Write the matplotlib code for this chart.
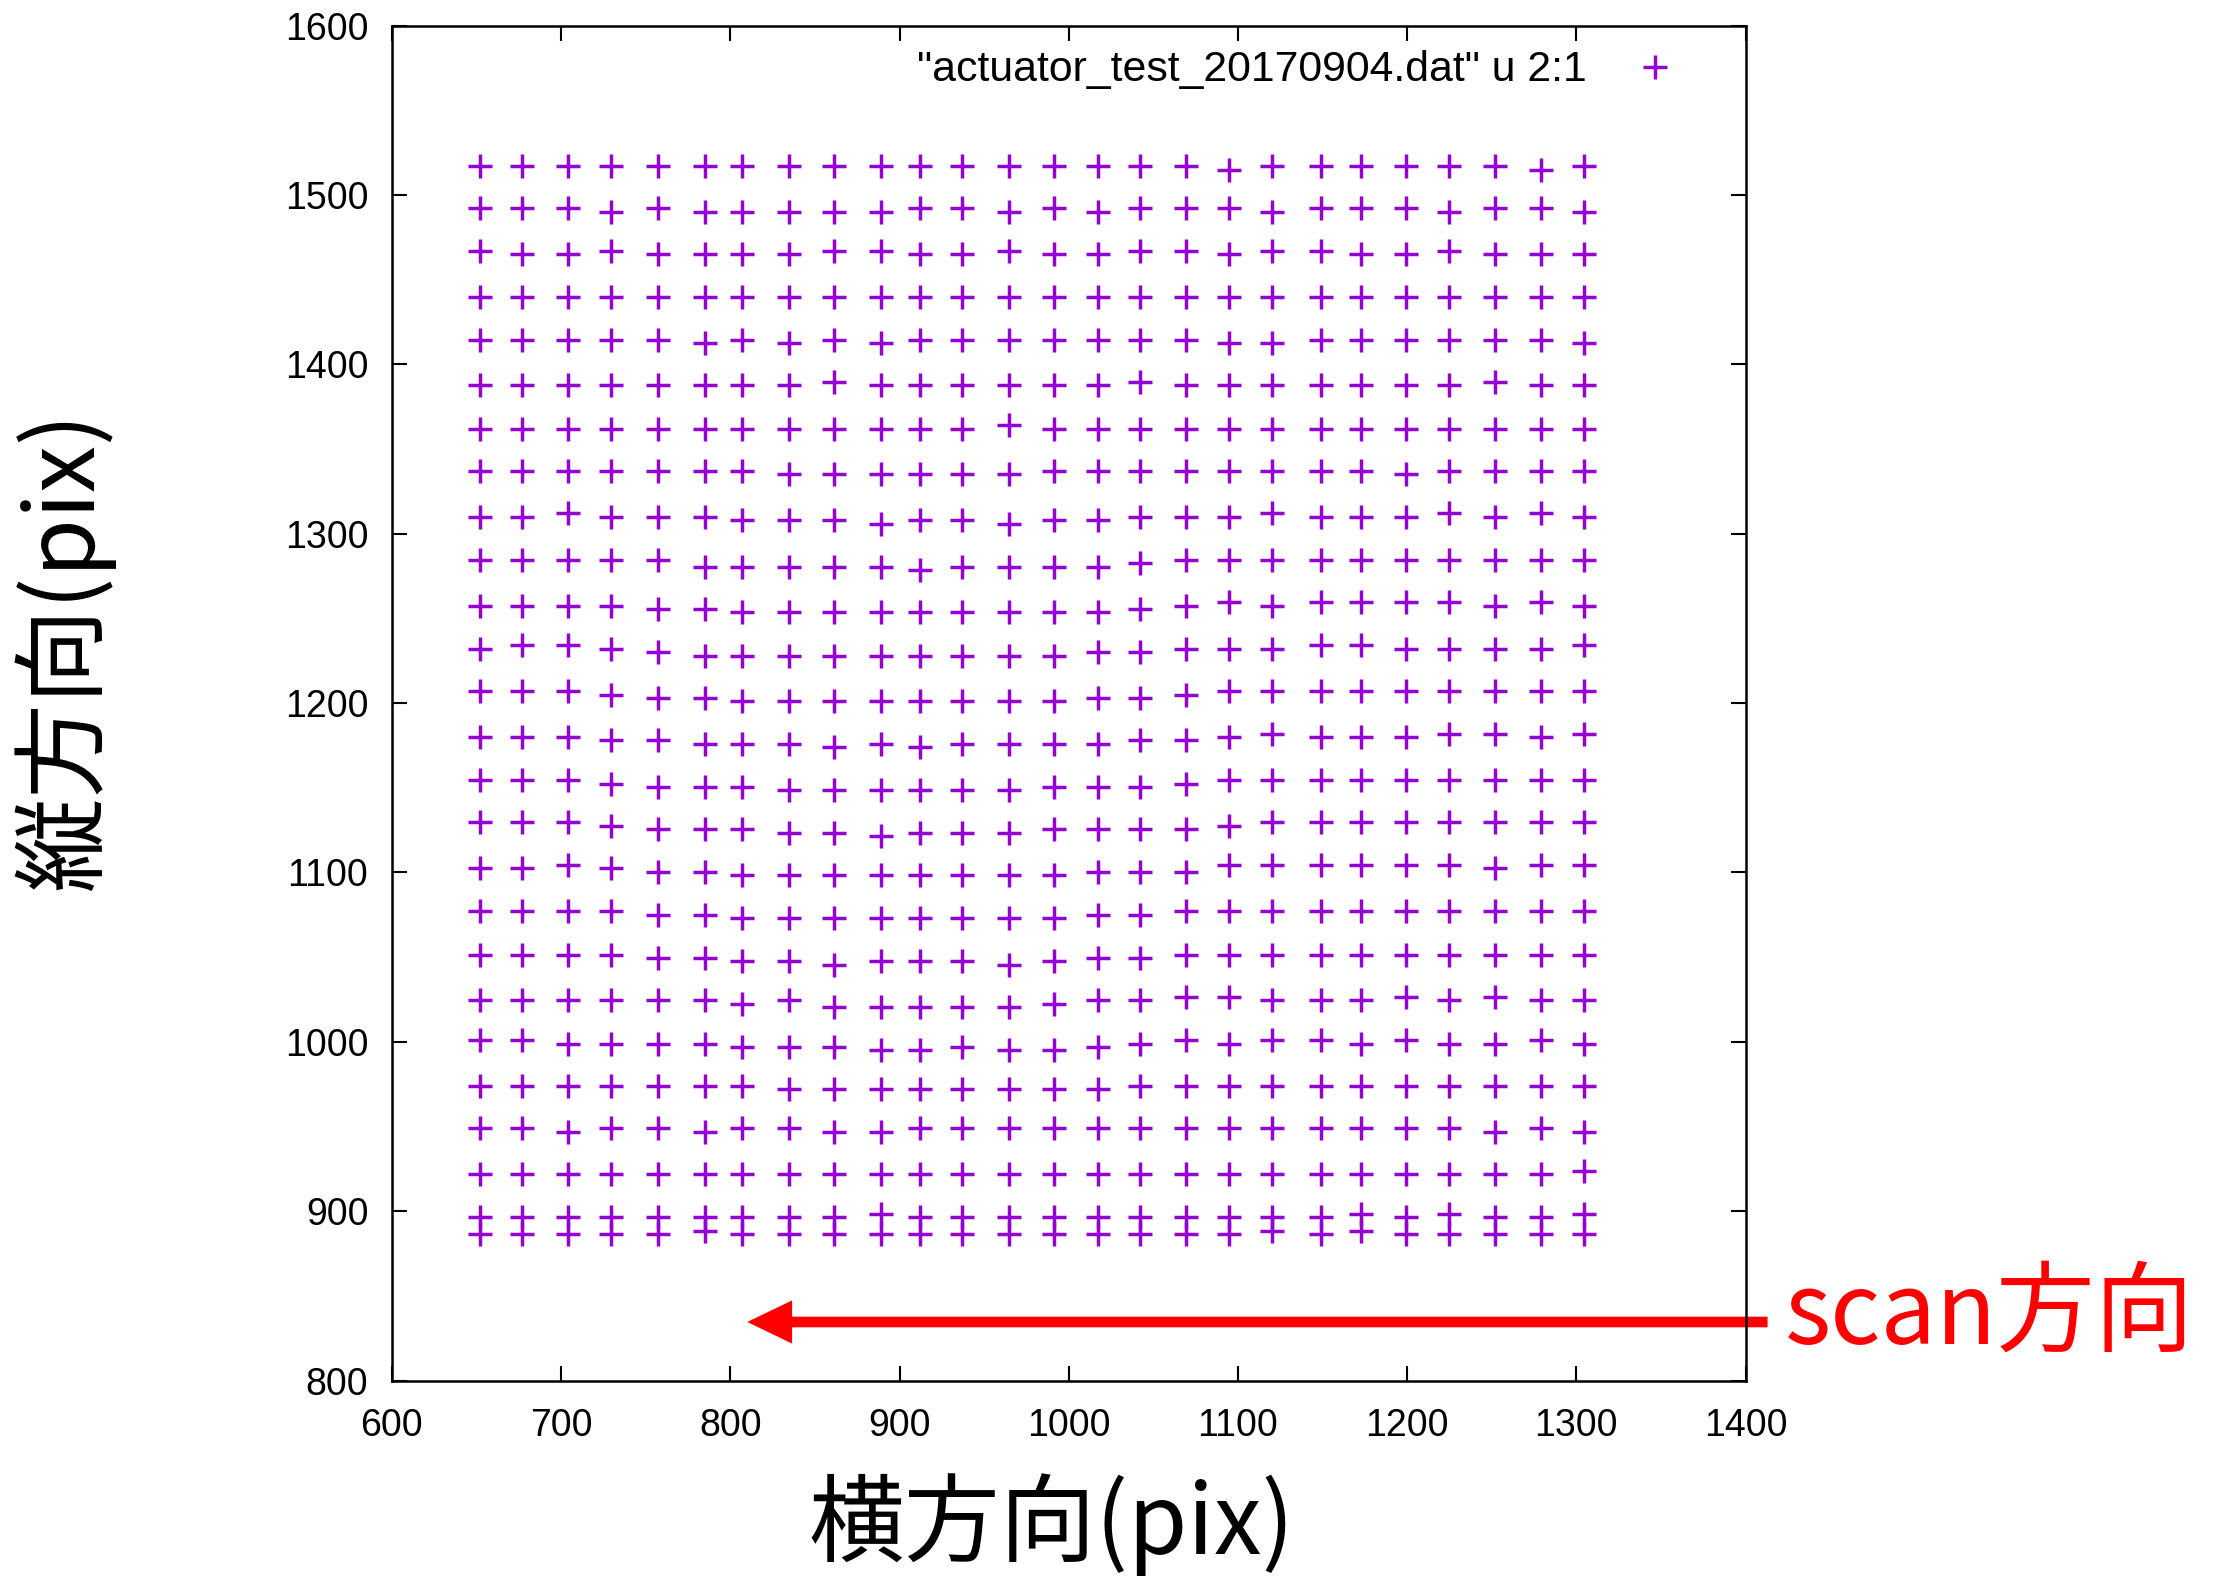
import matplotlib
matplotlib.use('Agg')
import matplotlib.pyplot as plt
from matplotlib.patches import FancyArrow

# ---- data ----
col_x = [652, 677, 704, 729.5, 757.5, 785, 807, 834.5, 861, 889, 912, 937, 964.5,
         991.5, 1017, 1042, 1069.5, 1095, 1120, 1149, 1172.5, 1199.5, 1225, 1252, 1279, 1304.5]
row_y = [1517, 1492, 1467, 1440, 1414.5, 1387.5, 1362, 1337, 1310, 1284.5, 1257.5, 1232,
         1207, 1180, 1154.5, 1129.5, 1102.5, 1077, 1051.5, 1024.5, 1001, 974, 949, 922,
         896.5, 886.5]
row_dy = [
    [0,0,0,0,0,0,0,0,0, 0,0,0,0,0,0,0,0, -2,0,0,0,0,0,0,-2,0],
    [0,0,0,-2,0,-2,-2,-2,-2, -2,0,0,-2,0,-2,0,0, 0,-2,0,0,0,-2,0,0,-2],
    [0,-2,-2,0,-2,-2,-2,-2,0, 0,-2,-2,0,-2,-2,0,0, -2,0,0,-2,-2,0,-2,-2,-2],
    [0,0,0,0,0,0,0,0,0, 0,0,0,0,0,0,0,0, 0,0,0,0,0,0,0,0,0],
    [0,0,0,0,0,-2,0,-2,0, -2,0,0,0,0,0,0,0, -2,-2,0,0,0,0,0,0,-2],
    [0,0,0,0,0,0,0,0,2, 0,0,0,0,0,0,2,0, 0,0,0,0,0,0,2,0,0],
    [0,0,0,0,0,0,0,0,0, 0,0,0,2,0,0,0,0, 0,0,0,0,0,0,0,0,0],
    [0,0,0,0,0,0,0,-2,-2, -2,-2,-2,-2,0,0,0,0, 0,0,0,0,-2,0,0,0,0],
    [0,0,2,0,0,0,-2,-2,-2, -4,-2,-2,-4,-2,-2,0,0, 0,2,0,0,0,2,0,2,0],
    [0,0,0,0,0,-4,-4,-4,-4, -4,-6,-4,-4,-4,-4,-2,0, 0,0,0,0,0,0,0,0,0],
    [0,0,0,0,-2,-2,-4,-4,-4, -4,-4,-4,-4,-4,-4,-2,0, 2,0,2,2,2,2,0,2,0],
    [0,2,2,0,-2,-4,-4,-4,-4, -4,-4,-4,-4,-4,-2,-2,0, 0,0,2,2,0,0,0,0,2],
    [0,0,0,-2,-4,-4,-6,-6,-6, -6,-6,-6,-6,-6,-4,-4,-2, 0,0,0,0,0,0,0,0,0],
    [0,0,0,-2,-2,-4,-4,-4,-6, -4,-6,-4,-4,-4,-4,-2,-2, 0,2,0,0,0,2,2,0,2],
    [0,0,0,-2,-4,-4,-4,-6,-6, -6,-6,-6,-6,-4,-4,-4,-2, 0,0,0,0,0,0,0,0,0],
    [0,0,0,-2,-4,-4,-4,-6,-6, -8,-6,-6,-6,-4,-4,-4,-4, -2,0,0,0,0,0,0,0,0],
    [0,0,2,0,-2,-2,-4,-4,-4, -4,-4,-4,-4,-4,-2,-2,-2, 2,2,2,2,2,2,0,2,2],
    [0,0,0,0,-2,-2,-4,-4,-4, -4,-4,-4,-4,-4,-2,-2,0, 0,0,0,0,0,0,0,0,0],
    [0,0,0,0,-2,-2,-4,-4,-6, -4,-4,-4,-6,-4,-2,-2,0, 0,0,0,0,0,0,0,0,0],
    [0,0,0,0,0,0,-2,0,-4, -4,-4,-4,-4,-2,0,0,2, 2,0,0,0,2,0,2,0,0],
    [0,0,-2,-2,-2,-2,-4,-4,-4, -6,-6,-4,-6,-6,-4,-2,0, -2,0,0,-2,0,-2,-2,0,-2],
    [0,0,0,0,0,0,0,-2,-2, -2,-2,-2,-2,-2,-2,0,0, 0,0,0,0,0,0,0,0,0],
    [0,0,-2,0,0,-2,0,0,-2, -2,0,0,0,0,0,0,0, 0,0,0,0,0,0,-2,0,-2],
    [0,0,0,0,0,0,0,0,0, 0,0,0,0,0,0,0,0, 0,0,0,0,0,0,0,0,2],
    [0,0,0,0,0,0,0,0,0, 2,0,0,0,0,0,0,0, 0,0,0,2,0,2,0,0,2],
    [0,0,0,0,0,2,0,0,0, 0,0,0,0,0,0,0,0, 0,2,0,2,0,0,0,0,0],
]
x_ticks = [600, 700, 800, 900, 1000, 1100, 1200, 1300, 1400]
y_ticks = [800, 900, 1000, 1100, 1200, 1300, 1400, 1500, 1600]
legend_label = '"actuator_test_20170904.dat" u 2:1'
x_label = '横方向(pix)'
y_label = '縦方向(pix)'
scan_label = 'scan方向'
scan_from_x, scan_to_x, scan_y = 1413, 810, 834.6

plt.rcParams['font.family'] = ['Liberation Sans', 'DejaVu Sans']
CJK = ['Noto Sans CJK JP', 'DejaVu Sans']

fig = plt.figure(figsize=(22.18, 15.78), dpi=100)
ax = fig.add_axes([0.1767, 0.1251, 0.6103, 0.8587])

xs, ys = [], []
for i, y0 in enumerate(row_y):
    for j, x0 in enumerate(col_x):
        xs.append(x0)
        ys.append(y0 + row_dy[i][j])
ax.plot(xs, ys, linestyle='none', marker='+', color='#9400D3',
        markersize=17, markeredgewidth=2.5, label=legend_label)

ax.set_xlim(600, 1400)
ax.set_ylim(800, 1600)
ax.set_xticks(x_ticks)
ax.set_yticks(y_ticks)
ax.tick_params(direction='in', length=11, width=1.5, top=True, right=True,
               pad=17, labelsize=27)
ax.tick_params(axis='x', pad=19.5)
for s in ax.spines.values():
    s.set_linewidth(1.8)

ax.legend(loc='upper right', bbox_to_anchor=(0.9645, 0.9816), frameon=False,
          markerfirst=False, fontsize=30.8, handlelength=2.0, handletextpad=0.6,
          borderaxespad=0, borderpad=0)

fig.text(0.0289, 0.5876, y_label, rotation=90, ha='center', va='center',
         fontsize=68, family=CJK)
fig.text(0.4739, 0.0336, x_label, ha='center', va='center',
         fontsize=69, family=CJK)
fig.text(0.8048, 0.166, scan_label, ha='left', va='center',
         fontsize=71, family=CJK, color='#FF0000')

arrow = FancyArrow(scan_from_x, scan_y, scan_to_x - scan_from_x, 0, width=6.3,
                   head_width=25.5, head_length=26.5, length_includes_head=True,
                   color='#FF0000', clip_on=False, linewidth=0)
ax.add_patch(arrow)

fig.savefig('out.png', dpi=100)
